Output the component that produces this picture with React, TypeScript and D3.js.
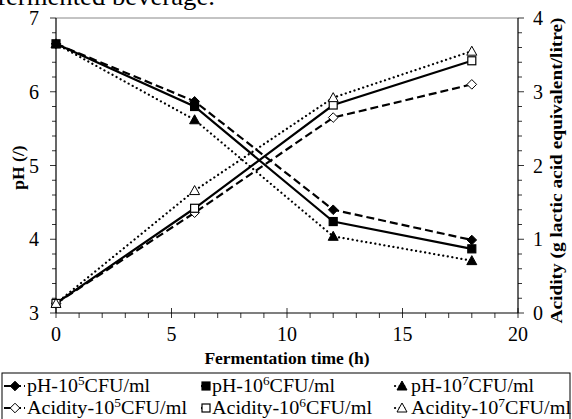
import React from "react";
import * as d3 from "d3";

const times = [0, 6, 12, 18];
const ph5 = [6.65, 5.87, 4.4, 3.99];
const ph6 = [6.65, 5.8, 4.24, 3.87];
const ph7 = [6.65, 5.62, 4.04, 3.71];
const ac5 = [0.13, 1.36, 2.65, 3.1];
const ac6 = [0.13, 1.42, 2.82, 3.42];
const ac7 = [0.13, 1.66, 2.92, 3.55];
const xTicks = [0, 5, 10, 15, 20];
const phTicks = [3, 4, 5, 6, 7];
const acTicks = [0, 1, 2, 3, 4];

const FONT = "Liberation Serif, Times New Roman, serif";

type Marker = "diamond" | "square" | "triangle";

function MarkerShape({ x, y, type, filled }: { x: number; y: number; type: Marker; filled: boolean }) {
  const fill = filled ? "#000" : "#fff";
  if (type === "square") {
    return <rect x={x - 4} y={y - 4} width={8} height={8} fill={fill} stroke="#000" strokeWidth={1.2} />;
  }
  if (type === "diamond") {
    const s = 4.8;
    return <path d={`M${x},${y - s}L${x + s},${y}L${x},${y + s}L${x - s},${y}Z`} fill={fill} stroke="#000" strokeWidth={1} />;
  }
  const s = 5;
  return <path d={`M${x},${y - s}L${x + s},${y + s * 0.8}L${x - s},${y + s * 0.8}Z`} fill={fill} stroke="#000" strokeWidth={1} />;
}

const dashFor = (k: number) => (k === 0 ? "8,4" : k === 1 ? undefined : "0.1,4.5");
const markerFor = (k: number): Marker => (k === 0 ? "diamond" : k === 1 ? "square" : "triangle");

export default function App() {
  const W = 572, H = 419;
  const left = 56, right = 518, top = 18, bottom = 313;
  const x = d3.scaleLinear().domain([0, 20]).range([left, right]);
  const yPh = d3.scaleLinear().domain([3, 7]).range([bottom, top]);
  const yAc = d3.scaleLinear().domain([0, 4]).range([bottom, top]);

  const phSeries = [ph5, ph6, ph7];
  const acSeries = [ac5, ac6, ac7];

  const lineGen = (ys: d3.ScaleLinear<number, number>) =>
    d3.line<number>().x((_, i) => x(times[i])).y((d) => ys(d));

  const minorY = d3.range(0, 21).map((i) => i * 0.2);
  const minorX = d3.range(0, 21);

  const legendItems = [
    { label: "pH-10", sup: "5", k: 0, filled: true, col: 0, row: 0 },
    { label: "pH-10", sup: "6", k: 1, filled: true, col: 1, row: 0 },
    { label: "pH-10", sup: "7", k: 2, filled: true, col: 2, row: 0 },
    { label: "Acidity-10", sup: "5", k: 0, filled: false, col: 0, row: 1 },
    { label: "Acidity-10", sup: "6", k: 1, filled: false, col: 1, row: 1 },
    { label: "Acidity-10", sup: "7", k: 2, filled: false, col: 2, row: 1 },
  ];
  const cols = [
    { s: 4, m: 15, e: 25, t: 27 },
    { s: 201, m: 206, e: 210, t: 212 },
    { s: 395, m: 402, e: 408, t: 411 },
  ];
  const rowY = [392, 414];

  return (
    <svg width={W} height={H} style={{ position: "absolute", left: 0, top: 0, fontFamily: FONT }}>
      <rect x={0} y={0} width={W} height={H} fill="#fff" />
      <text x={-3} y={5} fontSize={26} fill="#000" textLength={218} lengthAdjust="spacingAndGlyphs">fermented beverage.</text>
      <line x1={left} x2={right} y1={top} y2={top} stroke="#888" strokeWidth={1} />
      <line x1={left} x2={left} y1={top} y2={bottom} stroke="#000" strokeWidth={1.2} />
      <line x1={right} x2={right} y1={top} y2={bottom} stroke="#000" strokeWidth={1.2} />
      <line x1={left} x2={right} y1={bottom} y2={bottom} stroke="#000" strokeWidth={1.2} />
      {minorY.map((v, i) => (
        <g key={"my" + i}>
          <line x1={left - (i % 5 === 0 ? 6 : 4)} x2={left} y1={yAc(v)} y2={yAc(v)} stroke="#000" strokeWidth={0.8} />
          <line x1={right} x2={right + (i % 5 === 0 ? 6 : 4)} y1={yAc(v)} y2={yAc(v)} stroke="#000" strokeWidth={0.8} />
        </g>
      ))}
      {minorX.map((v) => (
        <line key={"mx" + v} x1={x(v)} x2={x(v)} y1={v % 5 === 0 ? bottom - 5 : bottom} y2={bottom + 5} stroke="#000" strokeWidth={0.8} />
      ))}
      {phTicks.map((t) => (
        <text key={"pt" + t} x={left - 17} y={yPh(t) + 7} fontSize={20} textAnchor="end">{t}</text>
      ))}
      {acTicks.map((t) => (
        <text key={"at" + t} x={right + 15} y={yAc(t) + 7} fontSize={20}>{t}</text>
      ))}
      {xTicks.map((t) => (
        <text key={"xt" + t} x={x(t)} y={341} fontSize={20} textAnchor="middle">{t}</text>
      ))}
      <text x={(left + right) / 2} y={364} fontSize={17.5} fontWeight="bold" textAnchor="middle">Fermentation time (h)</text>
      <text transform={`translate(24,${(top + bottom) / 2 + 2}) rotate(-90)`} fontSize={17.5} fontWeight="bold" textAnchor="middle">pH (/)</text>
      <text transform={`translate(562,${(top + bottom) / 2 + 5}) rotate(-90)`} fontSize={17} fontWeight="bold" textAnchor="middle"
        textLength={306} lengthAdjust="spacingAndGlyphs">Acidity (g lactic acid equivalent/litre)</text>

      {phSeries.map((s, k) => (
        <path key={"pl" + k} d={lineGen(yPh)(s) || ""} fill="none" stroke="#000" strokeWidth={2.2}
          strokeDasharray={dashFor(k)} strokeLinecap={k === 2 ? "round" : "butt"} />
      ))}
      {acSeries.map((s, k) => (
        <path key={"al" + k} d={lineGen(yAc)(s) || ""} fill="none" stroke="#000" strokeWidth={2.2}
          strokeDasharray={dashFor(k)} strokeLinecap={k === 2 ? "round" : "butt"} />
      ))}
      {phSeries.map((s, k) =>
        s.map((v, i) => <MarkerShape key={`pm${k}-${i}`} x={x(times[i])} y={yPh(v)} type={markerFor(k)} filled={true} />)
      )}
      {acSeries.map((s, k) =>
        s.map((v, i) => <MarkerShape key={`am${k}-${i}`} x={x(times[i])} y={yAc(v)} type={markerFor(k)} filled={false} />)
      )}

      <rect x={2} y={373} width={568} height={60} fill="none" stroke="#000" strokeWidth={1} />
      {legendItems.map((it, i) => {
        const c = cols[it.col];
        const ly = rowY[it.row] - 6;
        const tl = it.row === 0 ? 123 : 160;
        return (
          <g key={"lg" + i}>
            <line x1={c.s} x2={c.e} y1={ly} y2={ly} stroke="#000" strokeWidth={2.2}
              strokeDasharray={it.k === 0 ? "7,3" : it.k === 1 ? undefined : "0.1,4.5"} strokeLinecap={it.k === 2 ? "round" : "butt"} />
            <MarkerShape x={c.m} y={ly} type={markerFor(it.k)} filled={it.filled} />
            <text x={c.t} y={rowY[it.row]} fontSize={18} textLength={tl} lengthAdjust="spacingAndGlyphs">
              {it.label}
              <tspan dy={-7} fontSize={12}>{it.sup}</tspan>
              <tspan dy={7}>CFU/ml</tspan>
            </text>
          </g>
        );
      })}
    </svg>
  );
}
